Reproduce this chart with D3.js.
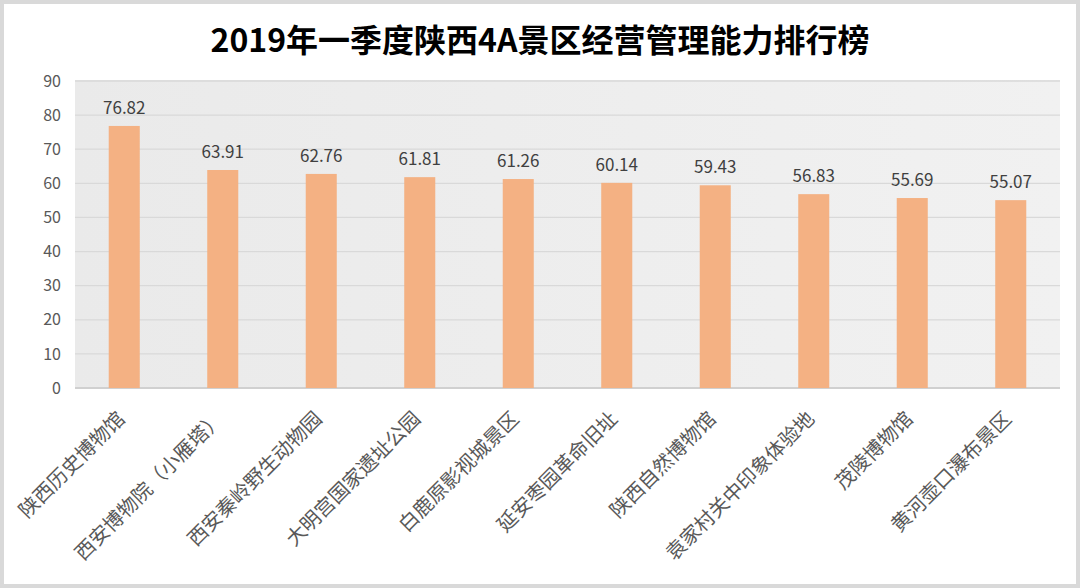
<!DOCTYPE html>
<html lang="zh">
<head>
  <meta charset="UTF-8">
  <title>2019年一季度陕西4A景区经营管理能力排行榜</title>
  <script src="https://d3js.org/d3.v7.min.js"></script>
  <style>
    body { margin: 0; background: #fff; }
    text { font-family: "Noto Sans CJK SC", "Noto Sans", sans-serif; }
    .tick-label { font-size: 16px; fill: #595959; }
    .val-label { font-size: 17px; fill: #404040; text-anchor: middle; }
    .cat-label { font-size: 20px; fill: #595959; text-anchor: end; }
  </style>
</head>
<body>
  <div id="chart"></div>
  <script>
    const title = "2019年一季度陕西4A景区经营管理能力排行榜";
    const categories = ["陕西历史博物馆", "西安博物院（小雁塔）", "西安秦岭野生动物园", "大明宫国家遗址公园",
      "白鹿原影视城景区", "延安枣园革命旧址", "陕西自然博物馆", "袁家村关中印象体验地", "茂陵博物馆", "黄河壶口瀑布景区"];
    const values = [76.82, 63.91, 62.76, 61.81, 61.26, 60.14, 59.43, 56.83, 55.69, 55.07];
    const yTicks = [0, 10, 20, 30, 40, 50, 60, 70, 80, 90];

    const width = 1080, height = 588;
    const plot = { left: 75, right: 1060, top: 80, bottom: 388 };

    const svg = d3.select("#chart").append("svg")
      .attr("width", width)
      .attr("height", height);

    // outer frame
    svg.append("rect")
      .attr("x", 2).attr("y", 2)
      .attr("width", width - 4).attr("height", height - 4)
      .attr("fill", "#fff")
      .attr("stroke", "#d9d9d9")
      .attr("stroke-width", 4);

    const grad = svg.append("defs").append("linearGradient")
      .attr("id", "bg").attr("x1", 0).attr("x2", 1).attr("y1", 0).attr("y2", 0);
    grad.append("stop").attr("offset", "0%").attr("stop-color", "#eaeaea");
    grad.append("stop").attr("offset", "100%").attr("stop-color", "#f1f1f1");

    svg.append("rect")
      .attr("x", plot.left).attr("y", plot.top)
      .attr("width", plot.right - plot.left).attr("height", plot.bottom - plot.top)
      .attr("fill", "url(#bg)");

    const x = d3.scaleBand()
      .domain(categories)
      .range([plot.left, plot.right])
      .paddingInner(0.685)
      .paddingOuter(0.3425);

    const y = d3.scaleLinear()
      .domain([0, 90])
      .range([plot.bottom, plot.top + 1]);

    // gridlines
    svg.append("g")
      .selectAll("line")
      .data(yTicks)
      .enter().append("line")
      .attr("x1", plot.left).attr("x2", plot.right)
      .attr("y1", d => y(d)).attr("y2", d => y(d))
      .attr("stroke", d => d === 0 ? "#d0d0d0" : "#d9d9d9")
      .attr("stroke-width", d => d === 0 ? 2 : 1.3);

    // y axis labels
    const yAxis = d3.axisLeft(y).tickValues(yTicks).tickSize(0).tickPadding(14);
    const gy = svg.append("g")
      .attr("transform", `translate(${plot.left},0)`)
      .call(yAxis);
    gy.select(".domain").remove();
    gy.selectAll("text").attr("class", "tick-label").attr("fill", null).style("font-size", "16px");

    // bars
    svg.append("g")
      .selectAll("rect")
      .data(values)
      .enter().append("rect")
      .attr("x", (d, i) => x(categories[i]))
      .attr("y", d => y(d))
      .attr("width", x.bandwidth())
      .attr("height", d => y(0) - y(d))
      .attr("fill", "#f4b183");

    // value labels
    svg.append("g")
      .selectAll("text")
      .data(values)
      .enter().append("text")
      .attr("class", "val-label")
      .attr("x", (d, i) => x(categories[i]) + x.bandwidth() / 2)
      .attr("y", d => y(d) - 12)
      .text(d => d.toFixed(2));

    // category labels
    svg.append("g")
      .selectAll("text")
      .data(categories)
      .enter().append("text")
      .attr("class", "cat-label")
      .attr("transform", d => `translate(${x(d) + x.bandwidth() / 2 + 2},${plot.bottom + 32}) rotate(-45)`)
      .text(d => d);

    // title
    svg.append("text")
      .attr("x", 540)
      .attr("y", 52)
      .attr("text-anchor", "middle")
      .style("font-size", "32px")
      .style("font-weight", "bold")
      .attr("fill", "#000")
      .text(title);
  </script>
</body>
</html>
